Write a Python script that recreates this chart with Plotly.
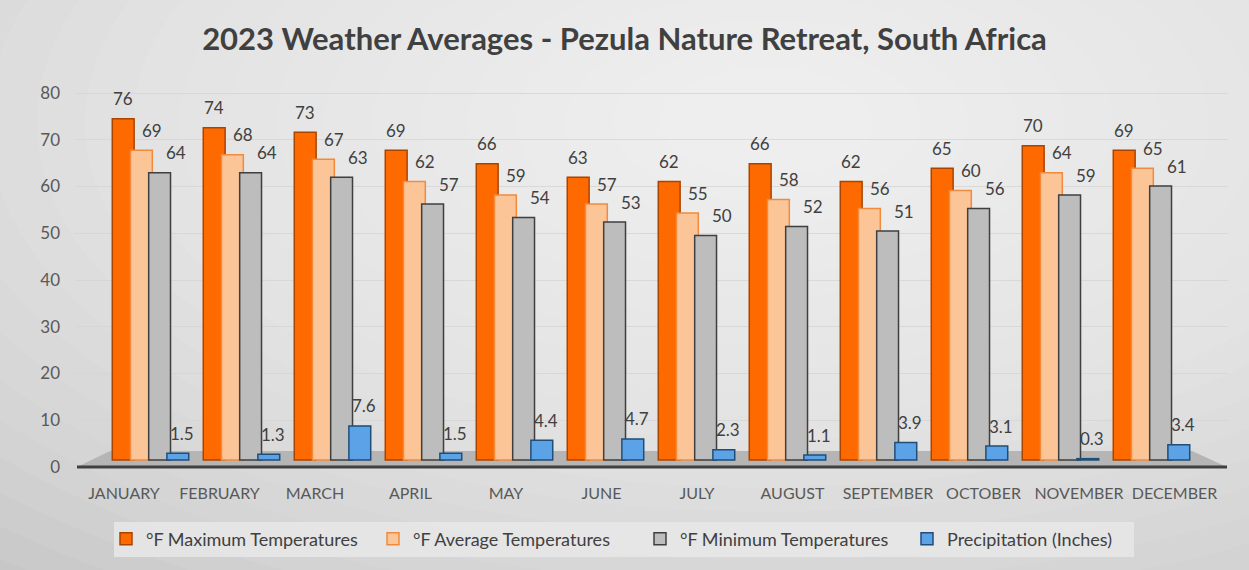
import numpy as np
import plotly.graph_objects as go

# Monatswerte
months = ["JANUARY", "FEBRUARY", "MARCH", "APRIL", "MAY", "JUNE",
          "JULY", "AUGUST", "SEPTEMBER", "OCTOBER", "NOVEMBER", "DECEMBER"]
temp_max = [76, 74, 73, 69, 66, 63, 62, 66, 62, 65, 70, 69]
temp_avg = [69, 68, 67, 62, 59, 57, 55, 58, 56, 60, 64, 65]
temp_min = [64, 64, 63, 57, 54, 53, 50, 52, 51, 56, 59, 61]
precip = [1.5, 1.3, 7.6, 1.5, 4.4, 4.7, 2.3, 1.1, 3.9, 3.1, 0.3, 3.4]
y_ticks = [0, 10, 20, 30, 40, 50, 60, 70, 80]

FONT = "Lato"

# ---------------------------------------------------------------
# Layout-Geometrie (Pixel)
# ---------------------------------------------------------------
W, H = 1249, 570
L, R, T, B = 75, 21, 75, 100
pw, ph = W - L - R, H - T - B

def px_x(p):
    return (p - L) / pw

def px_y(p):
    return (H - B - p) / ph

series = [
    ("°F Maximum Temperatures", temp_max, "#ff6a00", "#a84400", -0.30),
    ("°F Average Temperatures", temp_avg, "#fbc598", "#f08a3c", -0.10),
    ("°F Minimum Temperatures", temp_min, "#bdbdbd", "#3f3f3f", 0.10),
    ("Precipitation (Inches)", precip, "#5ba3e6", "#1f4e79", 0.30),
]
label_shift = [0, 11, 16, 4]
bar_w = 0.24
idx = np.arange(len(months))

fig = go.Figure()
annotations = []
for (name, vals, fill, edge, off), xs in zip(series, label_shift):
    fig.add_trace(go.Bar(
        x=idx, y=vals, name=name,
        width=bar_w, offset=off - bar_w / 2,
        marker=dict(color=fill, line=dict(color=edge, width=1.5)),
    ))
    for i, v in zip(idx, vals):
        annotations.append(dict(
            x=i + off, y=v, xref="x", yref="y", text=str(v),
            showarrow=False, yanchor="middle", yshift=20, xshift=xs,
            font=dict(family=FONT, size=17, color="#404040"),
        ))

# Hintergrund: heller Verlauf um die Mitte
shapes = []
n_rings = 24
for k in range(n_rings):
    f = 1 - k / n_rings
    rx = 1.0 * f + 0.05
    ry = 1.45 * f + 0.08
    cx, cy = 0.6, 0.88
    shapes.append(dict(type="circle", xref="paper", yref="paper",
                       x0=cx - rx, x1=cx + rx, y0=cy - ry, y1=cy + ry,
                       fillcolor="rgba(255,255,255,0.065)", line=dict(width=0), layer="below"))

# Boden (3D-Optik)
floor = "M {} {} L {} {} L {} {} L {} {} Z".format(
    px_x(77), px_y(467), px_x(110), px_y(451), px_x(1192), px_y(451), px_x(1227), px_y(467))
shapes.append(dict(type="path", path=floor, xref="paper", yref="paper",
                   fillcolor="#b5b5b5", line=dict(width=0), layer="below"))
shapes.append(dict(type="line", xref="paper", yref="paper",
                   x0=px_x(77), x1=px_x(1227), y0=px_y(467), y1=px_y(467),
                   line=dict(color="#404040", width=3)))
# Legendenkasten
shapes.append(dict(type="rect", xref="paper", yref="paper",
                   x0=px_x(114), x1=px_x(1134), y0=px_y(557), y1=px_y(522),
                   fillcolor="rgba(232,232,232,0.85)", line=dict(width=0), layer="below"))

fig.update_layout(
    width=W, height=H,
    margin=dict(l=L, r=R, t=T, b=B),
    paper_bgcolor="#c4c4c4",
    plot_bgcolor="rgba(0,0,0,0)",
    barmode="overlay",
    font=dict(family=FONT, size=16, color="#595959"),
    title=dict(text="<b>2023 Weather Averages - Pezula Nature Retreat, South Africa</b>",
               x=0.5, xanchor="center", y=1 - 39 / H, yanchor="middle",
               font=dict(family=FONT, size=31, color="#404040")),
    xaxis=dict(range=[(L - 150.5) / 91, (W - R - 150.5) / 91], showticklabels=False,
               showgrid=False, zeroline=False, fixedrange=True),
    xaxis2=dict(overlaying="x", side="bottom", range=[(L - 124) / 95.5, (W - R - 124) / 95.5],
                tickmode="array", tickvals=list(idx), ticktext=months,
                showgrid=False, zeroline=False, ticks="", ticklabelstandoff=12,
                tickfont=dict(family=FONT, size=16, color="#595959")),
    yaxis=dict(range=[-10 / 4.49, (460 - T) / 4.49], showticklabels=False,
               showgrid=False, zeroline=False),
    yaxis2=dict(overlaying="y", side="left", range=[-3 / 4.675, (467 - T) / 4.675],
                tickmode="array", tickvals=y_ticks, showgrid=True,
                gridcolor="rgba(212,212,212,0.8)", zeroline=False,
                ticklabelstandoff=14, tickfont=dict(family=FONT, size=17, color="#595959")),
    legend=dict(orientation="h", xref="container", yref="container",
                x=(624 + 16) / W, xanchor="center", y=1 - 539 / H, yanchor="middle",
                bgcolor="rgba(0,0,0,0)", font=dict(family=FONT, size=18, color="#404040"),
                traceorder="normal", entrywidth=222),
    shapes=shapes,
    annotations=annotations,
)

# unsichtbare Spur, damit die Achsen x2/y2 gezeichnet werden
fig.add_trace(go.Scatter(x=[0], y=[0], xaxis="x2", yaxis="y2", mode="markers",
                         marker=dict(opacity=0), showlegend=False, hoverinfo="skip"))

# Seitenrand des Browsers entfernen
fig.write_html("out.html", config={"displayModeBar": False},
               post_script="document.body.style.margin='0';")
